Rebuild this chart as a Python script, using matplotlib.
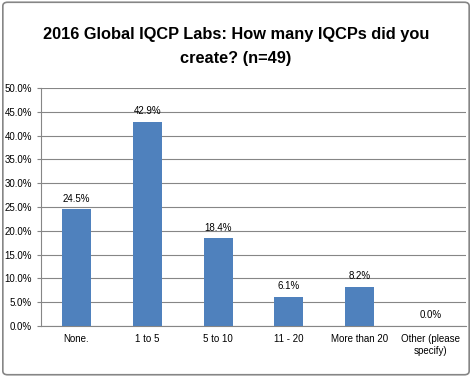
import matplotlib.pyplot as plt
from matplotlib.patches import FancyBboxPatch
from matplotlib.ticker import PercentFormatter

categories = ["None.", "1 to 5", "5 to 10", "11 - 20", "More than 20", "Other (please\nspecify)"]
values = [24.5, 42.9, 18.4, 6.1, 8.2, 0.0]
yticks = [0, 5, 10, 15, 20, 25, 30, 35, 40, 45, 50]

plt.rcParams["font.family"] = ["Liberation Sans", "DejaVu Sans"]

fig = plt.figure(figsize=(4.72, 3.77), dpi=100)
ax = fig.add_axes([41 / 472, 1 - 326 / 377, 425 / 472, 238 / 377])

x = range(len(categories))
bars = ax.bar(x, values, width=0.41, color="#4f81bd", zorder=3)
for xi, v in zip(x, values):
    ax.text(xi, v + 1.2, f"{v:.1f}%", ha="center", va="bottom", fontsize=7)

ax.set_xlim(-0.5, len(categories) - 0.5)
ax.set_ylim(0, 50)
ax.set_yticks(yticks)
ax.yaxis.set_major_formatter(PercentFormatter(decimals=1))
ax.set_xticks(list(x))
ax.set_xticklabels(categories, fontsize=7)
ax.tick_params(axis="y", labelsize=7, length=3, color="#868686")
ax.tick_params(axis="x", length=0, pad=6)
ax.grid(axis="y", color="#868686", linewidth=0.8, zorder=0)
for side in ["top", "right"]:
    ax.spines[side].set_visible(False)
for side in ["left", "bottom"]:
    ax.spines[side].set_color("#868686")

fig.text(0.5, 1 - 46 / 377, "2016 Global IQCP Labs: How many IQCPs did you\ncreate? (n=49)",
         ha="center", va="center", fontsize=11.8, fontweight="bold", linespacing=1.75)

frame = FancyBboxPatch((0.006, 0.006), 0.988, 0.988, boxstyle="round,pad=0,rounding_size=0.01",
                       transform=fig.transFigure, fill=False, edgecolor="#868686", linewidth=1.2)
fig.patches.append(frame)

fig.savefig("out.png", dpi=100)
